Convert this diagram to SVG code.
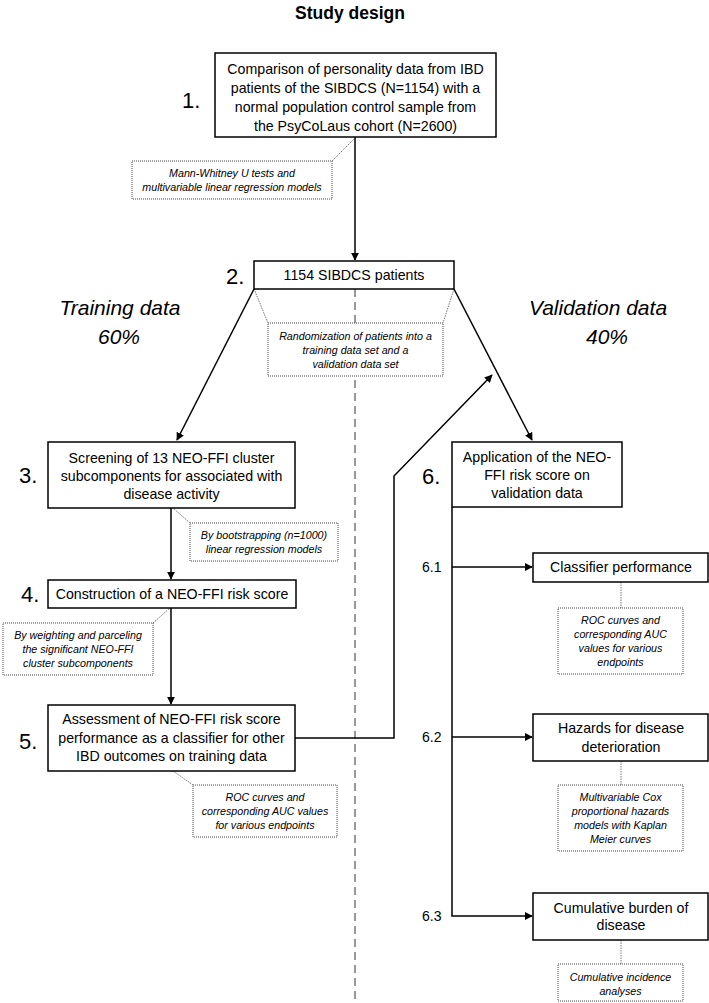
<svg xmlns="http://www.w3.org/2000/svg" width="709" height="1003" viewBox="0 0 709 1003">
<defs>
<marker id="ah" viewBox="0 0 10 10" refX="9" refY="5" markerWidth="8" markerHeight="8" markerUnits="userSpaceOnUse" orient="auto">
<path d="M0,0 L10,5 L0,10 z" fill="#000"/>
</marker>
<style>
.box{fill:#fff;stroke:#000;stroke-width:1.5}
.note{fill:#fff;stroke:#444;stroke-width:1;stroke-dasharray:1 1}
.nl{fill:none;stroke:#555;stroke-width:0.8;stroke-dasharray:1.5 1}
.c{fill:none;stroke:#000;stroke-width:1.5}
.t{font-family:"Liberation Sans",Arial,sans-serif;font-size:14.2px;fill:#000;text-anchor:middle}
.n{font-family:"Liberation Sans",Arial,sans-serif;font-size:10.7px;font-style:italic;fill:#000;text-anchor:middle}
.num{font-family:"Liberation Sans",Arial,sans-serif;font-size:22px;fill:#000}
.sub{font-family:"Liberation Sans",Arial,sans-serif;font-size:14px;fill:#000}
.big{font-family:"Liberation Sans",Arial,sans-serif;font-size:21px;font-style:italic;fill:#000;text-anchor:middle}
</style>
</defs>
<rect width="709" height="1003" fill="#fff"/>
<text x="350" y="19" font-family="Liberation Sans, Arial, sans-serif" font-size="17.5" font-weight="bold" text-anchor="middle">Study design</text>

<line x1="355" y1="289" x2="355" y2="1003" stroke="#999" stroke-width="2" stroke-dasharray="8 5"/>

<text class="big" x="120" y="315">Training data</text>
<text class="big" x="119" y="344">60%</text>
<text class="big" x="598" y="315">Validation data</text>
<text class="big" x="607" y="344">40%</text>

<g id="connectors">
<line class="c" x1="355" y1="137" x2="355" y2="260" marker-end="url(#ah)"/>
<line class="c" x1="254" y1="289" x2="177" y2="440" marker-end="url(#ah)"/>
<line class="c" x1="454" y1="289" x2="532" y2="440" marker-end="url(#ah)"/>
<line class="c" x1="171" y1="508" x2="171" y2="579" marker-end="url(#ah)"/>
<line class="c" x1="171" y1="608" x2="171" y2="704" marker-end="url(#ah)"/>
<polyline class="c" points="295,738 394,738 394,476 492,375" marker-end="url(#ah)"/>
<polyline class="c" points="452,507 452,916 532,916" marker-end="url(#ah)"/>
<line class="c" x1="452" y1="567" x2="532" y2="567" marker-end="url(#ah)"/>
<line class="c" x1="452" y1="737" x2="532" y2="737" marker-end="url(#ah)"/>
<line class="nl" x1="332" y1="161" x2="355" y2="138"/>
<line class="nl" x1="254" y1="289" x2="268" y2="323"/>
<line class="nl" x1="454" y1="289" x2="443" y2="323"/>
<line class="nl" x1="190" y1="523" x2="173" y2="508"/>
<line class="nl" x1="153" y1="623" x2="170" y2="608"/>
<line class="nl" x1="193" y1="785" x2="173" y2="771"/>
<line class="nl" x1="621" y1="582" x2="621" y2="608"/>
<line class="nl" x1="621" y1="761" x2="621" y2="785"/>
<line class="nl" x1="621" y1="940" x2="621" y2="964"/>
</g>

<g id="n1">
<rect class="box" x="215" y="53" width="281" height="84"/>
<text class="t" x="355.5" y="74">Comparison of personality data from IBD</text>
<text class="t" x="355.5" y="93">patients of the SIBDCS (N=1154) with a</text>
<text class="t" x="355.5" y="112">normal population control sample from</text>
<text class="t" x="355.5" y="131">the PsyCoLaus cohort (N=2600)</text>
<text class="num" x="182" y="108">1.</text>
</g>
<g id="note1">
<rect class="note" x="132" y="161" width="200" height="38"/>
<text class="n" x="232" y="177">Mann-Whitney U tests and</text>
<text class="n" x="232" y="191">multivariable linear regression models</text>
</g>

<g id="n2">
<rect class="box" x="254" y="261" width="200" height="28"/>
<text class="t" x="354" y="280">1154 SIBDCS patients</text>
<text class="num" x="226" y="284">2.</text>
</g>
<g id="note2">
<rect class="note" x="268" y="323" width="175" height="53"/>
<text class="n" x="355.5" y="340">Randomization of patients into a</text>
<text class="n" x="355.5" y="354">training data set and a</text>
<text class="n" x="355.5" y="368">validation data set</text>
</g>

<g id="n3">
<rect class="box" x="48" y="442" width="247" height="66"/>
<text class="t" x="171.5" y="463">Screening of 13 NEO-FFI cluster</text>
<text class="t" x="171.5" y="481">subcomponents for associated with</text>
<text class="t" x="171.5" y="499">disease activity</text>
<text class="num" x="19" y="483">3.</text>
</g>
<g id="note3">
<rect class="note" x="190" y="523" width="148" height="38"/>
<text class="n" x="264" y="539">By bootstrapping (n=1000)</text>
<text class="n" x="264" y="553">linear regression models</text>
</g>

<g id="n4">
<rect class="box" x="48" y="580" width="248" height="28"/>
<text class="t" x="172" y="599">Construction of a NEO-FFI risk score</text>
<text class="num" x="21" y="602">4.</text>
</g>
<g id="note4">
<rect class="note" x="3" y="623" width="150" height="52"/>
<text class="n" x="78" y="639">By weighting and parceling</text>
<text class="n" x="78" y="653">the significant NEO-FFI</text>
<text class="n" x="78" y="667">cluster subcomponents</text>
</g>

<g id="n5">
<rect class="box" x="48" y="705" width="247" height="66"/>
<text class="t" x="171.5" y="724">Assessment of NEO-FFI risk score</text>
<text class="t" x="171.5" y="743">performance as a classifier for other</text>
<text class="t" x="171.5" y="761">IBD outcomes on training data</text>
<text class="num" x="19" y="749">5.</text>
</g>
<g id="note5">
<rect class="note" x="193" y="785" width="144" height="52"/>
<text class="n" x="265" y="801">ROC curves and</text>
<text class="n" x="265" y="815">corresponding AUC values</text>
<text class="n" x="265" y="829">for various endpoints</text>
</g>

<g id="n6">
<rect class="box" x="452" y="442" width="170" height="65"/>
<text class="t" x="537" y="462">Application of the NEO-</text>
<text class="t" x="537" y="480">FFI risk score on</text>
<text class="t" x="537" y="498">validation data</text>
<text class="num" x="422" y="484">6.</text>
</g>

<g id="n61">
<rect class="box" x="533" y="553" width="175" height="29"/>
<text class="t" x="621" y="572">Classifier performance</text>
<text class="sub" x="422" y="572">6.1</text>
</g>
<g id="note61">
<rect class="note" x="558" y="608" width="125" height="66"/>
<text class="n" x="620.5" y="624">ROC curves and</text>
<text class="n" x="620.5" y="638">corresponding AUC</text>
<text class="n" x="620.5" y="652">values for various</text>
<text class="n" x="620.5" y="666">endpoints</text>
</g>

<g id="n62">
<rect class="box" x="533" y="714" width="175" height="47"/>
<text class="t" x="621" y="733">Hazards for disease</text>
<text class="t" x="621" y="752">deterioration</text>
<text class="sub" x="422" y="742">6.2</text>
</g>
<g id="note62">
<rect class="note" x="558" y="785" width="125" height="66"/>
<text class="n" x="620.5" y="801">Multivariable Cox</text>
<text class="n" x="620.5" y="815">proportional hazards</text>
<text class="n" x="620.5" y="829">models with Kaplan</text>
<text class="n" x="620.5" y="843">Meier curves</text>
</g>

<g id="n63">
<rect class="box" x="533" y="893" width="175" height="47"/>
<text class="t" x="621" y="913">Cumulative burden of</text>
<text class="t" x="621" y="930">disease</text>
<text class="sub" x="422" y="921">6.3</text>
</g>
<g id="note63">
<rect class="note" x="558" y="964" width="125" height="37"/>
<text class="n" x="620.5" y="981">Cumulative incidence</text>
<text class="n" x="620.5" y="995">analyses</text>
</g>
</svg>
